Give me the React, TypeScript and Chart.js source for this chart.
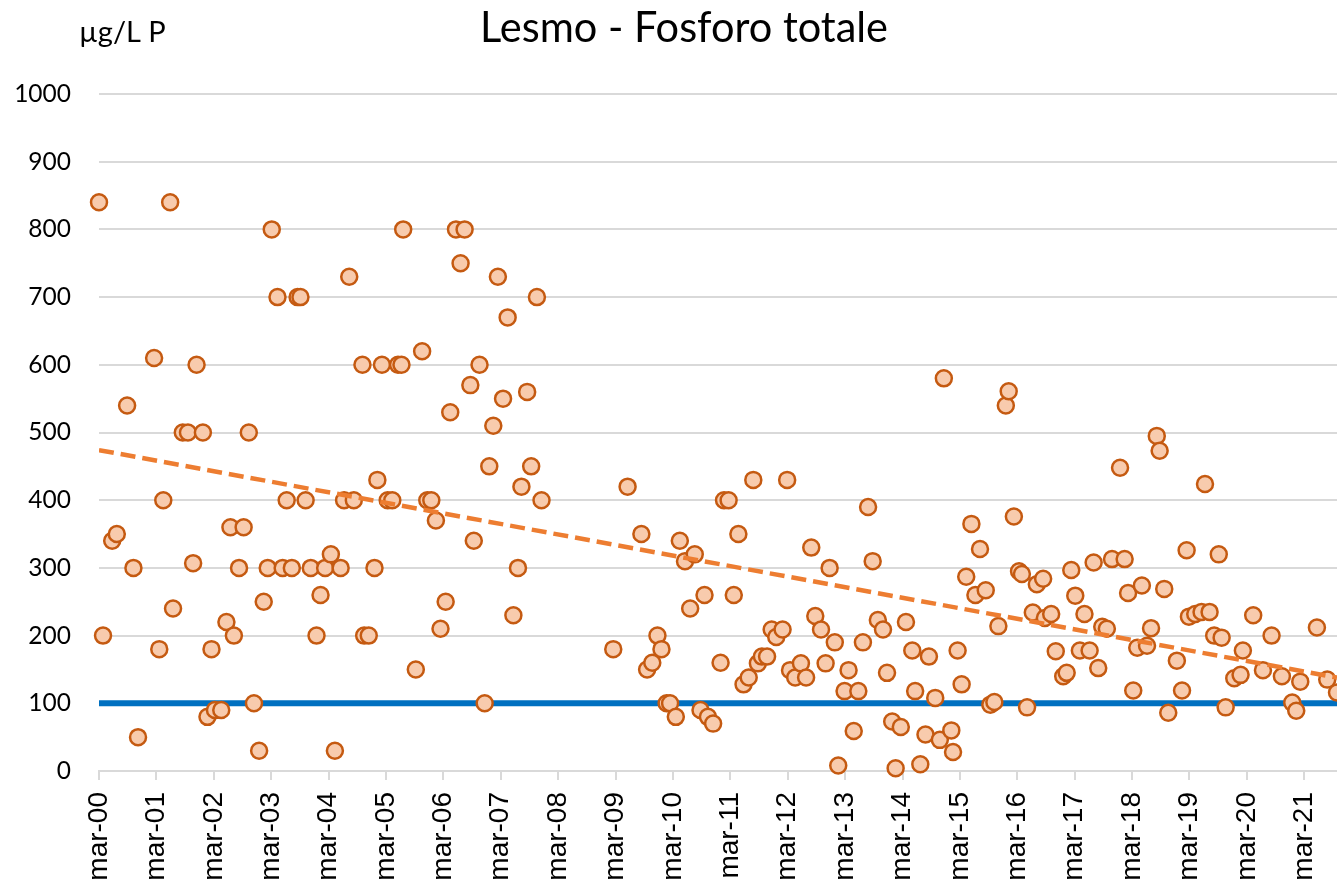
import React, { useEffect, useRef } from "react";
import { Chart, registerables } from "chart.js";

Chart.register(...registerables);

const TITLE = "Lesmo - Fosforo totale";
const UNIT_LABEL = "µg/L P";

// sampling dates, in years after March 2000
const sampleYears = [
  0.0, 0.07, 0.23, 0.31, 0.49, 0.6, 0.68, 0.96, 1.05, 1.12,
  1.24, 1.29, 1.46, 1.55, 1.64, 1.7, 1.81, 1.89, 1.96, 2.02,
  2.13, 2.22, 2.29, 2.35, 2.44, 2.52, 2.61, 2.7, 2.79, 2.87,
  2.94, 3.01, 3.11, 3.2, 3.27, 3.36, 3.46, 3.51, 3.6, 3.69,
  3.79, 3.86, 3.94, 4.04, 4.11, 4.21, 4.27, 4.36, 4.44, 4.59,
  4.62, 4.7, 4.8, 4.85, 4.93, 5.03, 5.11, 5.21, 5.27, 5.3,
  5.52, 5.63, 5.72, 5.79, 5.87, 5.95, 6.04, 6.12, 6.22, 6.3,
  6.37, 6.47, 6.53, 6.63, 6.72, 6.8, 6.87, 6.95, 7.04, 7.12,
  7.22, 7.3, 7.36, 7.46, 7.53, 7.63, 7.71, 8.96, 9.21, 9.45,
  9.55, 9.64, 9.73, 9.8, 9.89, 9.95, 10.05, 10.12, 10.21, 10.3,
  10.38, 10.48, 10.55, 10.61, 10.7, 10.83, 10.89, 10.97, 11.06, 11.14,
  11.23, 11.32, 11.4, 11.48, 11.55, 11.64, 11.72, 11.8, 11.91, 11.99,
  12.04, 12.13, 12.23, 12.32, 12.41, 12.48, 12.58, 12.66, 12.73, 12.82,
  12.88, 12.99, 13.06, 13.15, 13.23, 13.31, 13.4, 13.48, 13.57, 13.66,
  13.73, 13.82, 13.88, 13.97, 14.06, 14.17, 14.22, 14.31, 14.4, 14.46,
  14.57, 14.65, 14.72, 14.85, 14.88, 14.96, 15.03, 15.11, 15.2, 15.27,
  15.35, 15.45, 15.53, 15.6, 15.67, 15.8, 15.85, 15.94, 16.03, 16.08,
  16.17, 16.27, 16.34, 16.45, 16.48, 16.59, 16.67, 16.8, 16.86, 16.94,
  17.01, 17.09, 17.17, 17.26, 17.33, 17.41, 17.48, 17.56, 17.65, 17.79,
  17.87, 17.93, 18.02, 18.09, 18.17, 18.26, 18.33, 18.43, 18.48, 18.56,
  18.63, 18.78, 18.87, 18.95, 18.99, 19.1, 19.21, 19.27, 19.35, 19.43,
  19.51, 19.56, 19.63, 19.78, 19.89, 19.93, 20.11, 20.28, 20.43, 20.61,
  20.79, 20.86, 20.93, 21.22, 21.4, 21.57,
];

// total phosphorus, µg/L P
const totalP = [
  840, 200, 340, 350, 540, 300, 50, 610, 180, 400,
  840, 240, 500, 500, 307, 600, 500, 80, 180, 90,
  90, 220, 360, 200, 300, 360, 500, 100, 30, 250,
  300, 800, 700, 300, 400, 300, 700, 700, 400, 300,
  200, 260, 300, 320, 30, 300, 400, 730, 400, 600,
  200, 200, 300, 430, 600, 400, 400, 600, 600, 800,
  150, 620, 400, 400, 370, 210, 250, 530, 800, 750,
  800, 570, 340, 600, 100, 450, 510, 730, 550, 670,
  230, 300, 420, 560, 450, 700, 400, 180, 420, 350,
  150, 160, 200, 180, 100, 100, 80, 340, 310, 240,
  320, 90, 260, 80, 70, 160, 400, 400, 260, 350,
  128, 138, 430, 159, 169, 169, 209, 198, 209, 430,
  149, 138, 159, 138, 330, 229, 209, 159, 300, 190,
  8, 118, 149, 59, 118, 190, 390, 310, 223, 209,
  145, 73, 4, 65, 220, 178, 118, 10, 54, 169,
  108, 46, 580, 60, 28, 178, 128, 287, 365, 260,
  328, 267, 98, 102, 214, 540, 561, 376, 295, 291,
  94, 234, 276, 284, 226, 232, 177, 140, 145, 297,
  259, 178, 232, 178, 308, 152, 213, 210, 313, 448,
  313, 263, 119, 182, 274, 185, 211, 495, 473, 269,
  86, 163, 119, 326, 228, 232, 235, 424, 235, 200,
  320, 197, 94, 137, 142, 178, 230, 149, 200, 140,
  101, 89, 132, 212, 135, 116,
];

// x-axis ticks (years after March 2000) and their labels
const tickYears = [0, 1, 2, 3, 4, 5, 6, 7, 8, 9, 10, 11, 12, 13, 14, 15, 16, 17, 18, 19, 20, 21];
const tickLabels = [
  "mar-00", "mar-01", "mar-02", "mar-03", "mar-04", "mar-05", "mar-06", "mar-07",
  "mar-08", "mar-09", "mar-10", "mar-11", "mar-12", "mar-13", "mar-14", "mar-15",
  "mar-16", "mar-17", "mar-18", "mar-19", "mar-20", "mar-21",
];

// reference limit line (100 µg/L)
const limitX = [0, 21.57];
const limitY = [100, 100];

// linear trend line (end points)
const trendX = [0, 21.57];
const trendY = [474, 138];

const X_MIN = 0;
const X_MAX = 21.57;

const headerPlugin = {
  id: "header",
  afterDraw(chart: any) {
    const ctx = chart.ctx as CanvasRenderingContext2D;
    ctx.save();
    ctx.fillStyle = "#000000";
    ctx.textBaseline = "alphabetic";
    ctx.font = "42px Lato";
    ctx.textAlign = "center";
    ctx.fillText(TITLE, 684, 42, 408);
    ctx.font = "29px Lato";
    ctx.textAlign = "left";
    ctx.fillText(UNIT_LABEL, 79, 42, 92);
    ctx.restore();
  },
};

export default function App() {
  const canvasRef = useRef<HTMLCanvasElement | null>(null);

  useEffect(() => {
    const canvas = canvasRef.current;
    if (!canvas) return;

    const points = sampleYears.map((x, i) => ({ x, y: totalP[i] }));
    const limit = limitX.map((x, i) => ({ x, y: limitY[i] }));
    const trend = trendX.map((x, i) => ({ x, y: trendY[i] }));

    const chart = new Chart(canvas, {
      type: "scatter",
      data: {
        datasets: [
          {
            type: "line",
            label: "Tendenza",
            data: trend,
            borderColor: "#ed7d31",
            borderWidth: 4.5,
            borderDash: [15, 7],
            pointRadius: 0,
            fill: false,
            order: 0,
          } as any,
          {
            type: "scatter",
            label: "Fosforo totale",
            data: points,
            backgroundColor: "#f8cbad",
            borderColor: "#c55a11",
            borderWidth: 2.5,
            pointRadius: 8,
            pointHoverRadius: 8,
            clip: false,
            order: 1,
          } as any,
          {
            type: "line",
            label: "Limite",
            data: limit,
            borderColor: "#0070c0",
            borderWidth: 6,
            pointRadius: 0,
            fill: false,
            order: 2,
          } as any,
        ],
      },
      options: {
        responsive: false,
        animation: false,
        devicePixelRatio: 1,
        layout: { autoPadding: false, padding: { top: 94, left: 0, right: 0, bottom: 0 } },
        plugins: {
          legend: { display: false },
          tooltip: { enabled: false },
          title: { display: false },
        },
        scales: {
          x: {
            type: "linear",
            min: X_MIN,
            max: X_MAX,
            afterBuildTicks: (axis: any) => {
              axis.ticks = tickYears.map((v) => ({ value: v }));
            },
            afterFit: (axis: any) => {
              axis.height = 108;
              axis.paddingLeft = 0;
              axis.paddingRight = 0;
            },
            grid: {
              drawOnChartArea: false,
              drawTicks: true,
              tickLength: 9,
              color: "#d9d9d9",
              lineWidth: 2,
            },
            border: { display: true, color: "#d9d9d9", width: 2 },
            ticks: {
              autoSkip: false,
              minRotation: 90,
              maxRotation: 90,
              padding: 12,
              color: "#000000",
              font: { family: "Liberation Sans", size: 28 },
              callback: (value: any) => {
                const i = tickYears.indexOf(Number(value));
                return i >= 0 ? tickLabels[i] : "";
              },
            },
          },
          y: {
            min: 0,
            max: 1000,
            afterFit: (axis: any) => {
              axis.width = 99;
              axis.paddingTop = 0;
              axis.paddingBottom = 0;
            },
            grid: { color: "#d9d9d9", lineWidth: 2, drawTicks: false },
            border: { display: false },
            ticks: {
              stepSize: 100,
              padding: 28,
              color: "#000000",
              font: { family: "Lato", size: 24.5 },
              callback: (value: any) => String(value),
            },
          },
        },
      } as any,
      plugins: [headerPlugin],
    });

    return () => {
      chart.destroy();
    };
  }, []);

  return (
    <div
      style={{
        position: "fixed",
        left: 0,
        top: 0,
        width: 1337,
        height: 879,
        background: "#ffffff",
        overflow: "hidden",
      }}
    >
      <canvas ref={canvasRef} width={1337} height={879} style={{ display: "block" }} />
    </div>
  );
}
